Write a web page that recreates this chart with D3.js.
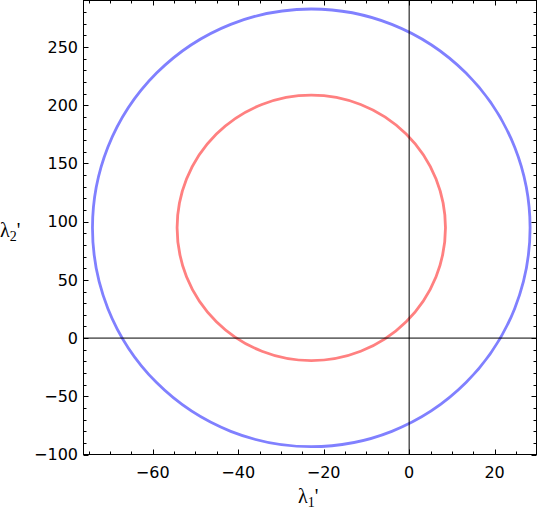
<!DOCTYPE html>
<html>
<head>
<meta charset="UTF-8">
<script src="https://d3js.org/d3.v7.min.js"></script>
<style>
  body { margin: 0; background: #fff; }
  text { font-family: "DejaVu Sans", sans-serif; }
</style>
</head>
<body>
<div id="chart"></div>
<script>
// curves: each is an ellipse in data units
const names = ["outer", "inner"];
const centerX = [-22.9, -22.9];
const centerY = [94.7, 94.7];
const radiusX = [51.2, 31.4];
const radiusY = [188, 114];
const colors = ["#8080ff", "#ff8080"];

const xTicks = [-60, -40, -20, 0, 20];
const yTicks = [-100, -50, 0, 50, 100, 150, 200, 250];

const W = 540, H = 513;
const x = d3.scaleLinear().domain([-76.2, 29.8]).range([83.5, 536.5]);
const y = d3.scaleLinear().domain([-100, 290]).range([454.5, 0.5]);

const svg = d3.select("#chart").append("svg")
    .attr("width", W).attr("height", H);

// curves
const curves = names.map((n, i) => ({ n, cx: centerX[i], cy: centerY[i], rx: radiusX[i], ry: radiusY[i], c: colors[i] }));

svg.selectAll(".curve")
    .data(curves)
    .join("ellipse")
    .attr("cx", d => x(d.cx))
    .attr("cy", d => y(d.cy))
    .attr("rx", d => x(d.cx + d.rx) - x(d.cx))
    .attr("ry", d => y(d.cy) - y(d.cy + d.ry))
    .attr("fill", "none")
    .attr("stroke", d => d.c)
    .attr("stroke-width", 2.8);

// axes through origin
svg.append("line")
    .attr("x1", x(0)).attr("x2", x(0))
    .attr("y1", y.range()[0]).attr("y2", y.range()[1])
    .attr("stroke", "#000").attr("stroke-width", 1);
svg.append("line")
    .attr("x1", x.range()[0]).attr("x2", x.range()[1])
    .attr("y1", y(0)).attr("y2", y(0))
    .attr("stroke", "#000").attr("stroke-width", 1);

// frame
svg.append("rect")
    .attr("x", x.range()[0]).attr("y", y.range()[1])
    .attr("width", x.range()[1] - x.range()[0])
    .attr("height", y.range()[0] - y.range()[1])
    .attr("fill", "none").attr("stroke", "#000").attr("stroke-width", 1);

// frame ticks (inside, on all four sides)
const xMinor = d3.range(-75, 30, 5).filter(v => !xTicks.includes(v));
const yMinor = d3.range(-90, 290, 10).filter(v => !yTicks.includes(v));
const big = 5, small = 3;

const tk = svg.append("g").attr("stroke", "#000").attr("stroke-width", 1);
[[xTicks, big], [xMinor, small]].forEach(([vals, len]) => {
  vals.forEach(v => {
    const px = Math.round(x(v)) + 0.5;
    tk.append("line").attr("x1", px).attr("x2", px)
      .attr("y1", y.range()[0]).attr("y2", y.range()[0] - len);
    tk.append("line").attr("x1", px).attr("x2", px)
      .attr("y1", y.range()[1]).attr("y2", y.range()[1] + len);
  });
});
[[yTicks, big], [yMinor, small]].forEach(([vals, len]) => {
  vals.forEach(v => {
    const py = Math.round(y(v)) + 0.5;
    tk.append("line").attr("y1", py).attr("y2", py)
      .attr("x1", x.range()[0]).attr("x2", x.range()[0] + len);
    tk.append("line").attr("y1", py).attr("y2", py)
      .attr("x1", x.range()[1]).attr("x2", x.range()[1] - len);
  });
});

const fmt = v => (v < 0 ? "\u2212" + Math.abs(v) : "" + v);

svg.selectAll(".xl")
    .data(xTicks)
    .join("text")
    .attr("x", d => x(d))
    .attr("y", 478)
    .attr("text-anchor", "middle")
    .attr("font-size", 16)
    .text(fmt);

svg.selectAll(".yl")
    .data(yTicks)
    .join("text")
    .attr("x", 78)
    .attr("y", d => y(d))
    .attr("dy", "0.36em")
    .attr("text-anchor", "end")
    .attr("font-size", 16)
    .text(fmt);

// axis labels
function lambda(xp, yp, sub) {
  const t = svg.append("text")
      .attr("x", xp).attr("y", yp)
      .style("font-family", "'Liberation Serif', 'Times New Roman', serif")
      .attr("font-size", 20);
  t.append("tspan").text("\u03bb");
  t.append("tspan").attr("dy", 4).attr("font-size", 14).text(sub);
  t.append("tspan").attr("dy", -4).text("'");
}
lambda(298, 503, "1");
lambda(0, 237, "2");
</script>
</body>
</html>
